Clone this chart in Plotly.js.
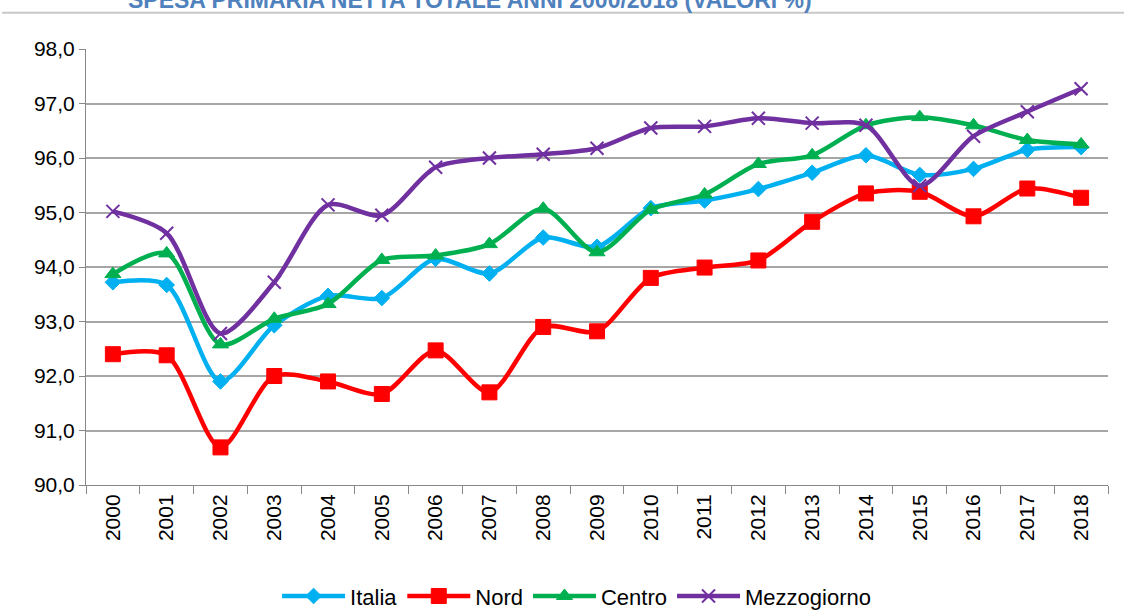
<!DOCTYPE html>
<html>
<head>
<meta charset="utf-8">
<script src="https://cdn.plot.ly/plotly-3.0.1.min.js"></script>
<style>html,body{margin:0;padding:0;background:#fff;}#chart{width:1124px;height:616px;}</style>
</head>
<body>
<div id="chart"></div>
<script>
const years = ["2000","2001","2002","2003","2004","2005","2006","2007","2008","2009","2010","2011","2012","2013","2014","2015","2016","2017","2018"];
const italia = [93.72,93.67,91.90,92.93,93.47,93.43,94.15,93.88,94.54,94.37,95.08,95.22,95.43,95.73,96.05,95.69,95.80,96.15,96.20];
const nord = [92.40,92.38,90.69,92.00,91.90,91.67,92.47,91.70,92.90,92.82,93.80,93.99,94.12,94.83,95.35,95.38,94.93,95.44,95.27];
const centro = [93.87,94.25,92.58,93.05,93.32,94.13,94.21,94.42,95.07,94.27,95.05,95.33,95.89,96.05,96.60,96.75,96.60,96.33,96.25];
const mezzogiorno = [95.02,94.62,92.78,93.72,95.14,94.95,95.83,96.00,96.07,96.18,96.55,96.58,96.73,96.64,96.60,95.49,96.40,96.85,97.27];
const seriesNames = ["Italia","Nord","Centro","Mezzogiorno"];
const yTicks = [90,91,92,93,94,95,96,97,98];
const titleText = "SPESA PRIMARIA NETTA TOTALE ANNI 2000/2018 (VALORI %)";

const font = "Liberation Sans Narrow, Arial Narrow, Liberation Sans, Arial, sans-serif";
function tr(name, y, color, symbol, size, lw) {
  return {
    type: "scatter", mode: "lines+markers", name: name, x: years, y: y,
    line: {color: color, width: 4.5, shape: "spline", smoothing: 0.8},
    marker: {symbol: symbol, size: size, color: color, line: {color: color, width: lw}}
  };
}
const data = [
  tr(seriesNames[0], italia, "#00B0F0", "diamond", 12, 1),
  tr(seriesNames[1], nord, "#FF0000", "square", 15, 1),
  tr(seriesNames[2], centro, "#00B050", "triangle-up", 14, 1),
  tr(seriesNames[3], mezzogiorno, "#7030A0", "x-thin", 13, 2)
];
const layout = {
  width: 1124, height: 616,
  margin: {l: 86, r: 16, t: 49, b: 131, autoexpand: false},
  paper_bgcolor: "#fff", plot_bgcolor: "#fff",
  separators: ",.",
  font: {family: font, size: 18, color: "#000"},
  xaxis: {type: "category", tickson: "boundaries", ticks: "outside", ticklen: 8, tickcolor: "#888", tickangle: -90, automargin: false,
    showline: true, linecolor: "#888", linewidth: 1, showgrid: false, tickfont: {size: 21, family: font}, range: [-0.5, 18.5]},
  yaxis: {range: [90, 98], tickvals: yTicks, tickformat: ".1f", ticks: "outside", ticklen: 6, tickcolor: "#888", automargin: false,
    showline: true, linecolor: "#888", linewidth: 1, gridcolor: "#A6A6A6", gridwidth: 1.5, zeroline: false, tickfont: {size: 21, family: font}},
  legend: {orientation: "h", x: 0.48, xanchor: "center", y: -0.255, yanchor: "middle", font: {size: 22, family: font}, itemwidth: 63, traceorder: "normal"},
  showlegend: true,
  annotations: [{text: "<b>" + titleText + "</b>", xref: "paper", yref: "paper", x: 0.376, xanchor: "center", y: 1.113, yanchor: "middle", showarrow: false, font: {family: font, size: 23, color: "#4F81BD"}}],
  shapes: [{type: "line", xref: "paper", yref: "paper", x0: -0.082, x1: 1.02, y0: 1.083, y1: 1.083, line: {color: "#C8C8C8", width: 2}}]
};
Plotly.newPlot("chart", data, layout, {displayModeBar: false});
</script>
</body>
</html>
